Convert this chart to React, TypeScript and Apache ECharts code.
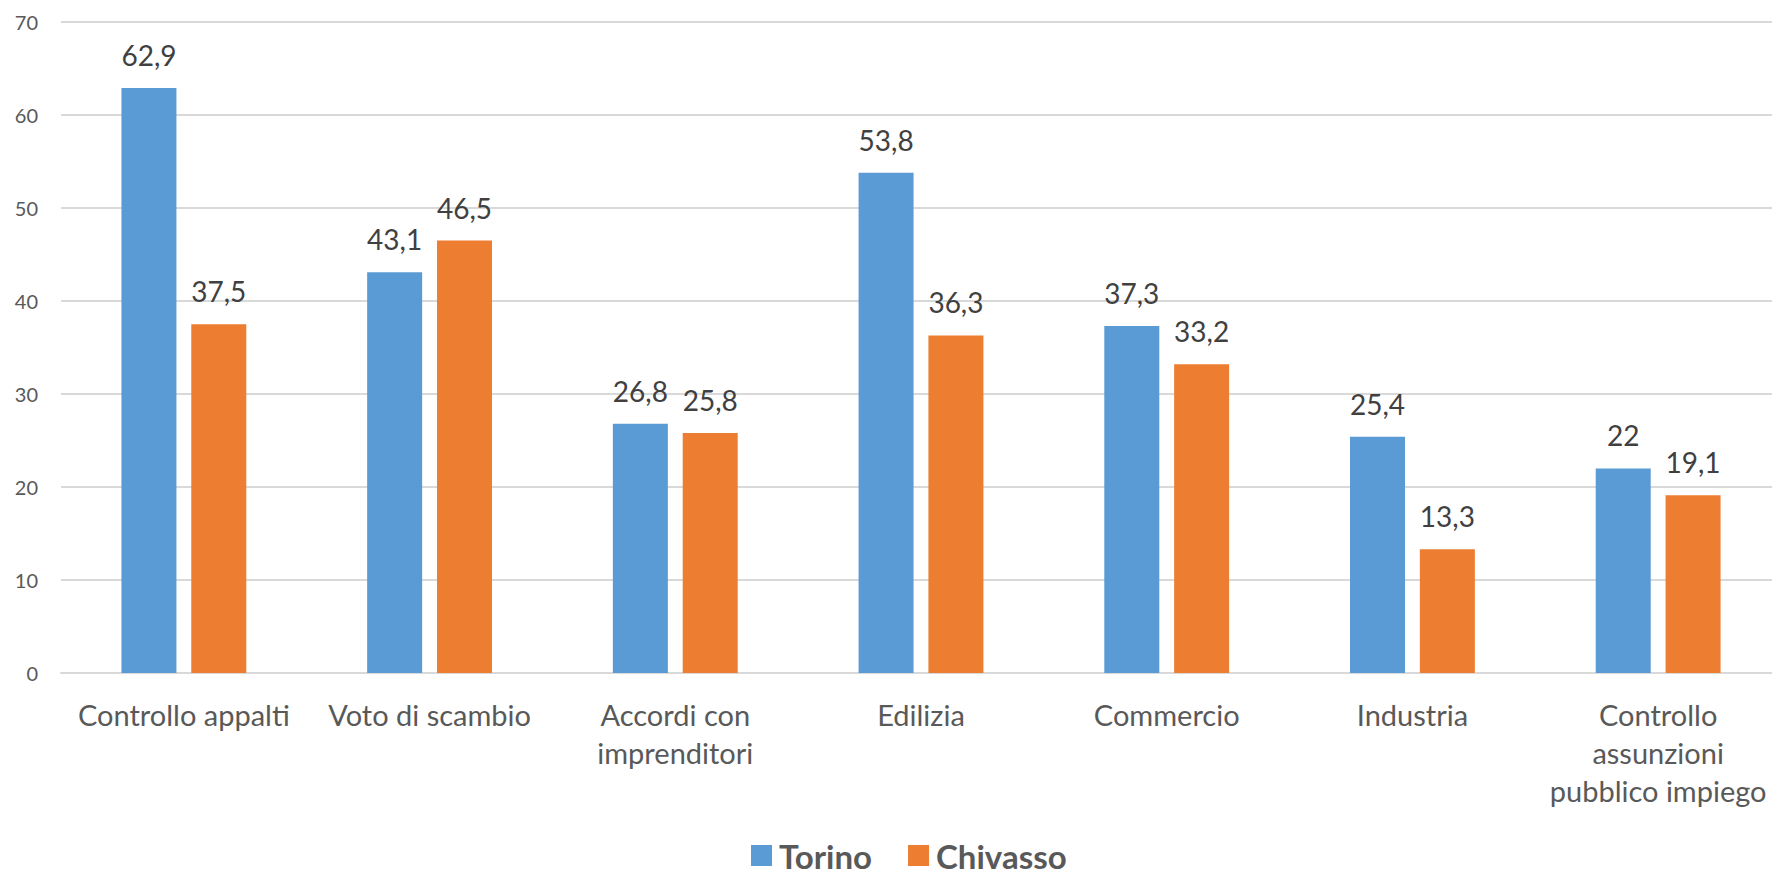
import React, { useEffect, useRef } from "react";
import * as echarts from "echarts";

const categories = [
  "Controllo appalti",
  "Voto di scambio",
  "Accordi con\nimprenditori",
  "Edilizia",
  "Commercio",
  "Industria",
  "Controllo\nassunzioni\npubblico impiego",
];
const torino = [62.9, 43.1, 26.8, 53.8, 37.3, 25.4, 22];
const chivasso = [37.5, 46.5, 25.8, 36.3, 33.2, 13.3, 19.1];
const seriesNames = ["Torino", "Chivasso"];
const yTicks = { min: 0, max: 70, interval: 10 };

const FONT = "Lato, 'Open Sans', sans-serif";

export default function App() {
  const ref = useRef<HTMLDivElement>(null);
  useEffect(() => {
    if (!ref.current) return;
    const chart = echarts.init(ref.current, undefined, { renderer: "svg" });
    const fmt = (p: any) => String(p.value).replace(".", ",");
    const label = {
      show: true,
      position: "top",
      distance: 19,
      formatter: fmt,
      color: "#404040",
      fontSize: 28,
      fontFamily: FONT,
    };
    chart.setOption({
      animation: false,
      backgroundColor: "#ffffff",
      textStyle: { fontFamily: FONT },
      grid: {
        left: 61,
        width: 1720,
        top: 22,
        bottom: 199,
        containLabel: false,
        outerBoundsMode: "none",
      },
      legend: {
        data: seriesNames,
        left: 746,
        top: 834,
        itemWidth: 21,
        itemHeight: 21,
        itemGap: 36,
        icon: "rect",
        textStyle: { fontSize: 33, fontWeight: "bold", color: "#595959", fontFamily: FONT, padding: [0, 0, 0, 2] },
      },
      xAxis: {
        type: "category",
        data: categories,
        axisLine: { lineStyle: { color: "#d9d9d9", width: 2 } },
        axisTick: { show: false },
        axisLabel: {
          interval: 0,
          color: "#595959",
          fontSize: 29,
          lineHeight: 38,
          margin: 22,
          fontFamily: FONT,
          hideOverlap: false,
        },
      },
      yAxis: {
        type: "value",
        min: yTicks.min,
        max: yTicks.max,
        interval: yTicks.interval,
        axisLine: { show: false },
        axisTick: { show: false },
        splitLine: { lineStyle: { color: "#d9d9d9", width: 2 } },
        axisLabel: { color: "#595959", fontSize: 20, margin: 23, fontFamily: FONT },
      },
      series: [
        {
          name: seriesNames[0],
          type: "bar",
          data: torino,
          barWidth: 55,
          barGap: "27%",
          itemStyle: { color: "#5B9BD5" },
          label,
        },
        {
          name: seriesNames[1],
          type: "bar",
          data: chivasso,
          barWidth: 55,
          itemStyle: { color: "#ED7D31" },
          label,
        },
      ],
    });
    return () => chart.dispose();
  }, []);
  return (
    <div
      ref={ref}
      style={{ position: "fixed", left: 0, top: 0, width: 1772, height: 872, background: "#fff" }}
    />
  );
}
